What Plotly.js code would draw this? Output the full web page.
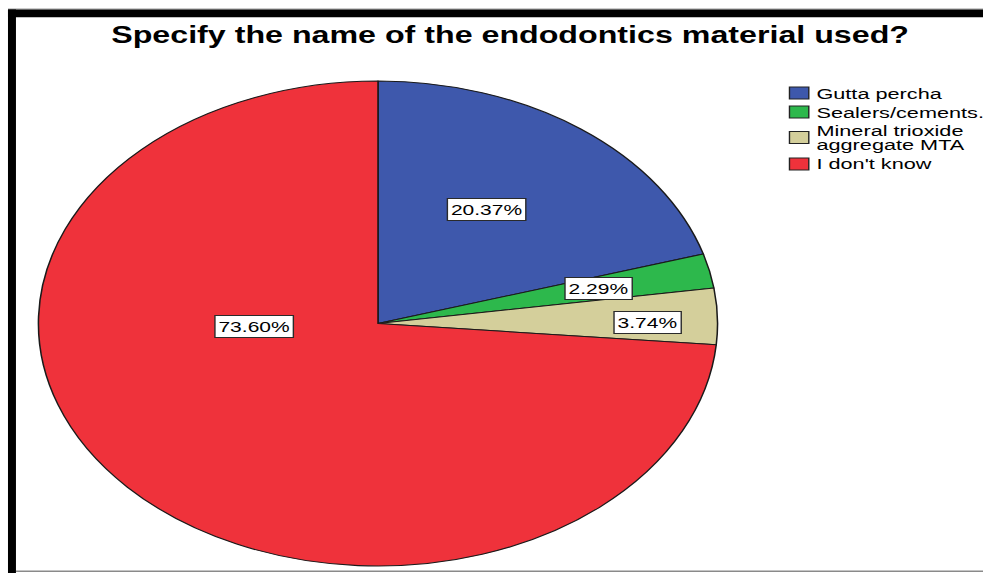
<!DOCTYPE html>
<html>
<head>
<meta charset="utf-8">
<script src="https://cdn.plot.ly/plotly-3.0.1.min.js"></script>
<style>
  html, body { margin: 0; padding: 0; background: #ffffff; }
  #frame { width: 983px; height: 573px; overflow: hidden; position: relative; background: #ffffff; }
  /* the chart is laid out narrow and stretched sideways, giving the wide oval pie */
  #chart { width: 702px; height: 573px; transform-origin: 0 0; transform: scaleX(1.40028); }
</style>
</head>
<body>
<div id="frame"><div id="chart"></div></div>
<script>
// ---- data ----
const categories = ["Gutta percha", "Sealers/cements.", "Mineral trioxide aggregate MTA", "I don't know"];
const legendLines = [["Gutta percha"], ["Sealers/cements."], ["Mineral trioxide", "aggregate MTA"], ["I don't know"]];
const percentages = [20.37, 2.29, 3.74, 73.60];
const sliceColors = ["#3e58ac", "#2db84c", "#d4cf9b", "#ef323b"];
const chartTitle = "Specify the name of the endodontics material used?";

// ---- layout constants (pixels in the unstretched 702x573 drawing) ----
const W = 702, H = 573;
const px = x => x / W;
const py = y => 1 - y / H;
const FONT = "Liberation Sans, Arial, Helvetica, sans-serif";

// value boxes on the slices
const valueBoxPos = [[347.9, 209.5], [427.1, 288.7], [462.1, 322.5], [181.2, 326.3]];
// legend rows: y centre of each row's swatch
const legendRowY = [93, 112, 137.5, 164];
const legendLineGap = 14.5;

const pieTrace = {
  type: "pie",
  labels: categories,
  values: percentages,
  sort: false,
  direction: "clockwise",
  rotation: 0,
  textinfo: "none",
  hoverinfo: "label+percent",
  showlegend: false,
  marker: { colors: sliceColors, line: { color: "#1a1a1a", width: 1.1 } },
  domain: { x: [px(269.94 - 242.5), px(269.94 + 242.5)], y: [7 / H, 492 / H] }
};

const annotations = [];
const shapes = [];

// percentage boxes
percentages.forEach((v, i) => {
  annotations.push({
    xref: "paper", yref: "paper",
    x: px(valueBoxPos[i][0]), y: py(valueBoxPos[i][1]),
    xanchor: "center", yanchor: "middle",
    text: v.toFixed(2) + "%",
    showarrow: false,
    font: { family: FONT, size: 15, color: "#000000" },
    bgcolor: "#ffffff", bordercolor: "#2a2a2a", borderwidth: 1, borderpad: 2
  });
});

// legend swatches and labels
categories.forEach((c, i) => {
  const cy = legendRowY[i];
  shapes.push({
    type: "rect", xref: "paper", yref: "paper",
    x0: px(563.8), x1: px(577.6), y0: py(cy + 6), y1: py(cy - 6),
    fillcolor: sliceColors[i], line: { color: "#222222", width: 1 }
  });
  const lines = legendLines[i];
  lines.forEach((t, k) => {
    const ly = cy + (k - (lines.length - 1) / 2) * legendLineGap;
    annotations.push({
      xref: "paper", yref: "paper",
      x: px(580.6), y: py(ly),
      xanchor: "left", yanchor: "middle",
      text: t, showarrow: false,
      font: { family: FONT, size: 15.5, color: "#000000" }
    });
  });
});

// frame: thin grey rules and the heavy black top / left bars
shapes.push(
  { type: "rect", xref: "paper", yref: "paper", x0: px(5.7), x1: 1.01, y0: py(9.6), y1: py(8.6),
    fillcolor: "#9a9a9a", line: { width: 0 } },
  { type: "rect", xref: "paper", yref: "paper", x0: px(5.7), x1: 1.01, y0: py(17.2), y1: py(9.6),
    fillcolor: "#000000", line: { width: 0 } },
  { type: "rect", xref: "paper", yref: "paper", x0: px(5.7), x1: px(11.4), y0: -0.01, y1: py(9.6),
    fillcolor: "#000000", line: { width: 0 } },
  { type: "rect", xref: "paper", yref: "paper", x0: px(11.4), x1: 1.01, y0: py(572), y1: py(570.4),
    fillcolor: "#8a8a8a", line: { width: 0 } }
);

const layout = {
  width: W, height: H,
  margin: { l: 0, r: 0, t: 0, b: 0, pad: 0 },
  paper_bgcolor: "#ffffff",
  plot_bgcolor: "#ffffff",
  showlegend: false,
  title: {
    text: chartTitle,
    x: px(364.3), xanchor: "center",
    y: py(34.5), yanchor: "middle",
    font: { family: FONT, size: 23, weight: 700, color: "#000000" }
  },
  annotations: annotations,
  shapes: shapes
};

Plotly.newPlot("chart", [pieTrace], layout, { displayModeBar: false, staticPlot: true });
</script>
</body>
</html>
